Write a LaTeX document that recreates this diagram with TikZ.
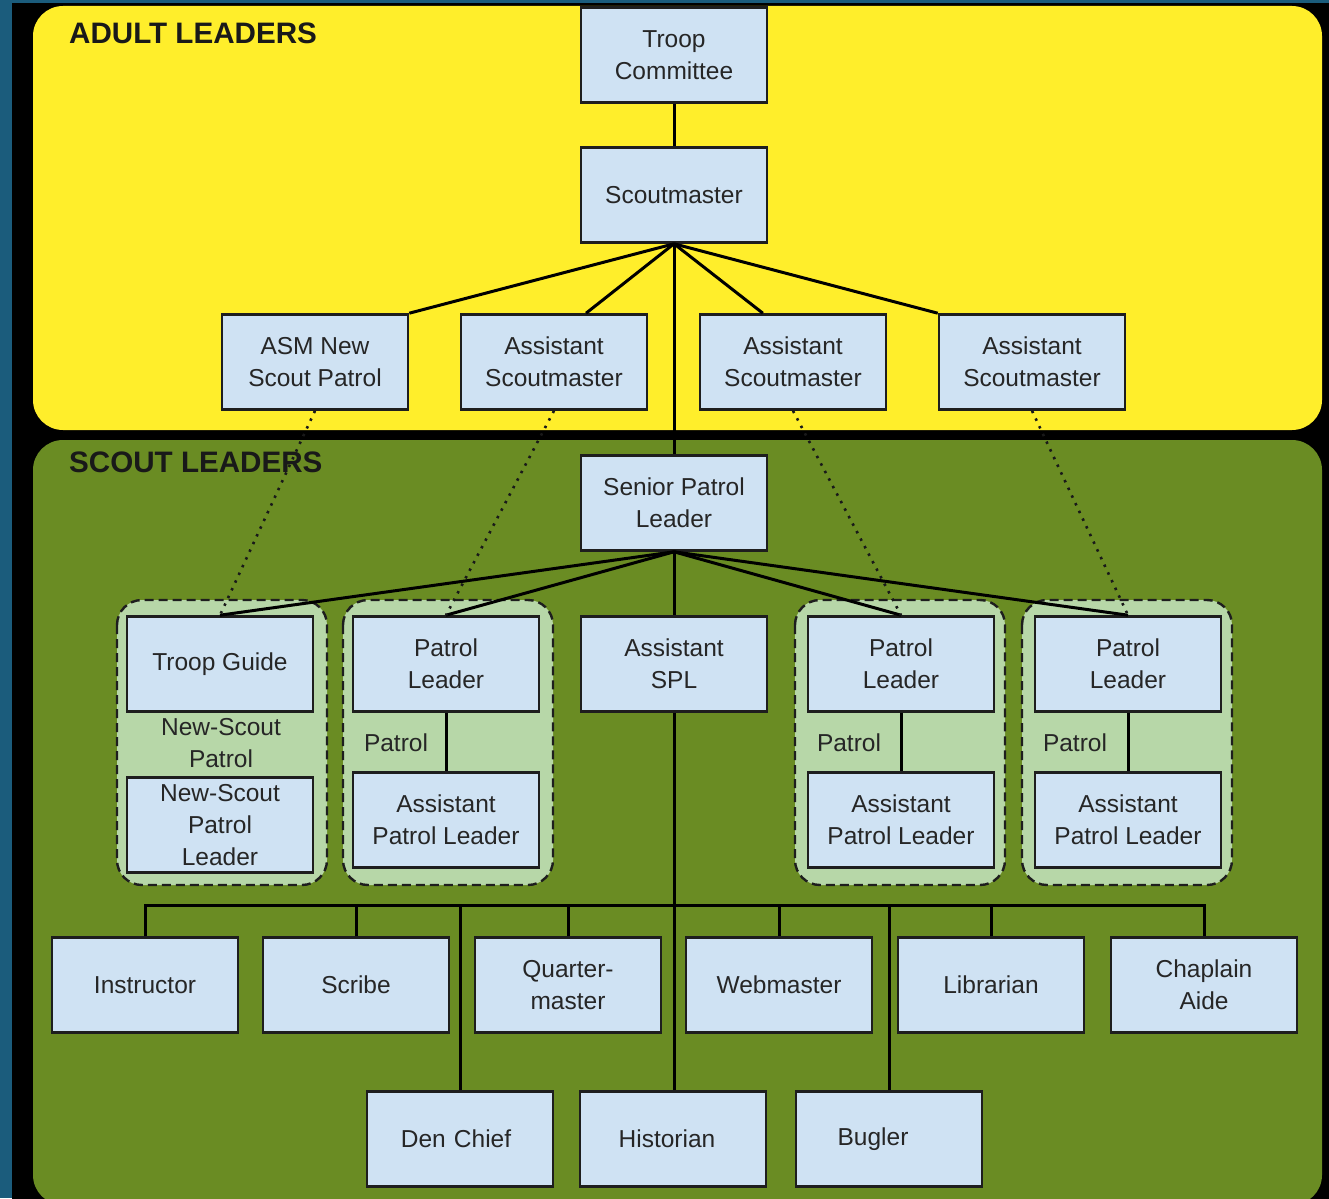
\documentclass[tikz,border=0pt]{standalone}
\usepackage{fontspec}
\setmainfont{Liberation Sans}
\usetikzlibrary{calc}
\definecolor{bgteal}{HTML}{1B5C7C}
\definecolor{panelyellow}{HTML}{FFEE2B}
\definecolor{panelgreen}{HTML}{6A8C23}
\definecolor{grpgreen}{HTML}{B7D7A8}
\definecolor{boxblue}{HTML}{CFE2F3}
\definecolor{boxline}{HTML}{1E1E1E}
\definecolor{txt}{HTML}{262626}
\tikzset{
  box/.style={draw=boxline, fill=boxblue, line width=2.6pt, minimum width=186pt, minimum height=95pt,
    inner sep=0pt, align=center, text=txt, font=\fontsize{24.5}{32}\selectfont},
  conn/.style={line width=3pt, draw=black},
  dotconn/.style={line width=2.6pt, draw=black!90, dash pattern=on 2.5pt off 6pt},
  grp/.style={draw=boxline, fill=grpgreen, line width=2.4pt, dash pattern=on 9pt off 5pt, rounded corners=25pt},
  lbl/.style={inner sep=0pt, align=center, text=txt, font=\fontsize{24.5}{32}\selectfont},
  title/.style={inner sep=0pt, anchor=west, text=black!90, font=\bfseries\fontsize{29.6}{32}\selectfont}
}
\begin{document}
\begin{tikzpicture}[x=1pt,y=-1pt]
\useasboundingbox (0,0) rectangle (1329,1198);
\begin{scope}
\clip (0,0) rectangle (1329,1198);
\fill[bgteal] (0,0) rectangle (1329,1198);
\fill[black] (12,3) rectangle (1335,1205);
\fill[panelyellow, rounded corners=30pt] (33,6) rectangle (1322,430);
\fill[panelgreen, rounded corners=30pt] (33,440) rectangle (1322,1205);
\end{scope}
\node[title] (adult) at (69,33) {ADULT LEADERS};
\node[title] (scout) at (69,462) {SCOUT LEADERS};
% patrol groups
\draw[grp] (117,600) rectangle (327,885);
\draw[grp] (343,600) rectangle (553,885);
\draw[grp] (795,600) rectangle (1005,885);
\draw[grp] (1022,600) rectangle (1232,885);
% nodes
\node[box] (tc) at (674,55) {Troop\\Committee};
\node[box] (sm) at (674,195) {Scoutmaster};
\node[box] (asmn) at (315,362) {ASM New\\Scout Patrol};
\node[box] (as1) at (554,362) {Assistant\\Scoutmaster};
\node[box] (as2) at (793,362) {Assistant\\Scoutmaster};
\node[box] (as3) at (1032,362) {Assistant\\Scoutmaster};
\node[box] (spl) at (674,503) {Senior Patrol\\Leader};
\node[box] (tg) at (220,664) {Troop Guide};
\node[lbl] (nsp) at (221,743) {New-Scout\\Patrol};
\node[box] (nspl) at (220,825) {New-Scout\\Patrol\\Leader};
\node[box] (pl1) at (446,664) {Patrol\\Leader};
\node[box] (apl1) at (446,820) {Assistant\\Patrol Leader};
\node[lbl] (p1) at (396,743) {Patrol};
\node[box] (aspl) at (674,664) {Assistant\\SPL};
\node[box] (pl3) at (901,664) {Patrol\\Leader};
\node[box] (apl3) at (901,820) {Assistant\\Patrol Leader};
\node[lbl] (p3) at (849,743) {Patrol};
\node[box] (pl4) at (1128,664) {Patrol\\Leader};
\node[box] (apl4) at (1128,820) {Assistant\\Patrol Leader};
\node[lbl] (p4) at (1075,743) {Patrol};
\node[box] (instr) at (145,985) {Instructor};
\node[box] (scribe) at (356,985) {Scribe};
\node[box] (qm) at (568,985) {Quarter-\\master};
\node[box] (web) at (779,985) {Webmaster};
\node[box] (lib) at (991,985) {Librarian};
\node[box] (chap) at (1204,985) {Chaplain\\Aide};
\node[box, text width=170pt, align=center] (den) at (460,1139) {\hspace*{-8pt}Den Chief};
\node[box, text width=170pt, align=center] (hist) at (673,1139) {\hspace*{-12pt}Historian};
\node[box, text width=170pt, align=center] (bug) at (889,1139) {\hspace*{-32pt}Bugler};
\coordinate (bar) at (145,905);
% connectors
\draw[conn] (tc) -- (sm);
\draw[conn] (sm.south) -- (asmn.north east);
\draw[conn] (sm.south) -- ($(as1.north west)!0.67!(as1.north east)$);
\draw[conn] (sm.south) -- ($(as2.north west)!0.34!(as2.north east)$);
\draw[conn] (sm.south) -- (as3.north west);
\draw[conn] (sm.south) -- (spl.north);
\draw[conn] (spl.south) -- (tg.north);
\draw[conn] (spl.south) -- (pl1.north);
\draw[conn] (spl.south) -- (pl3.north);
\draw[conn] (spl.south) -- (pl4.north);
\draw[conn] (spl.south) -- (aspl.north);
\draw[conn] (pl1) -- (apl1);
\draw[conn] (pl3) -- (apl3);
\draw[conn] (pl4) -- (apl4);
\draw[conn] (aspl.south) -- (aspl.south |- hist.north);
\draw[conn] (instr.north) -- (instr.north |- bar) -| (chap.north);
\draw[conn] (scribe.north) -- (scribe.north |- bar);
\draw[conn] (qm.north) -- (qm.north |- bar);
\draw[conn] (web.north) -- (web.north |- bar);
\draw[conn] (lib.north) -- (lib.north |- bar);
\draw[conn] (den.north) -- (den.north |- bar);
\draw[conn] (bug.north) -- (bug.north |- bar);
\draw[dotconn] (asmn.south) -- (tg.north);
\draw[dotconn] (as1.south) -- (pl1.north);
\draw[dotconn] (as2.south) -- (pl3.north);
\draw[dotconn] (as3.south) -- (pl4.north);
\end{tikzpicture}
\end{document}
